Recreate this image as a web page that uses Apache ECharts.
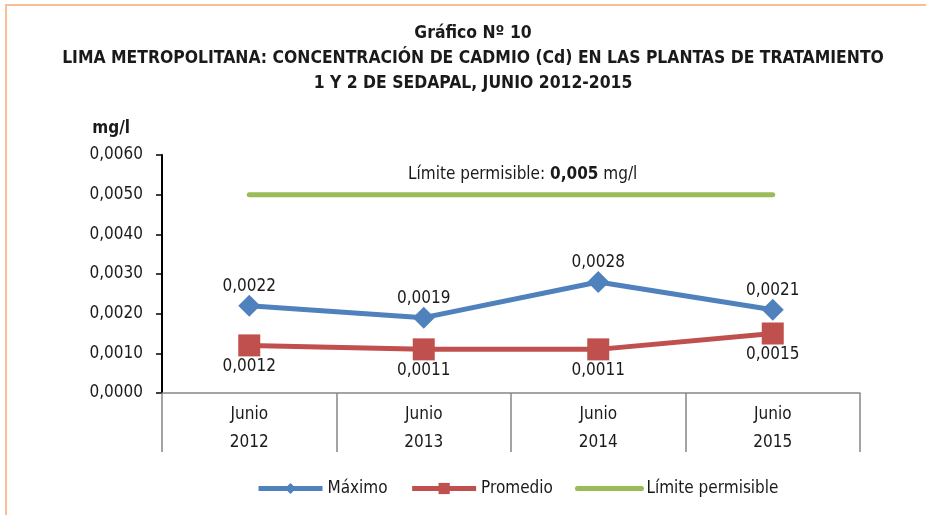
<!DOCTYPE html>
<html><head><meta charset="utf-8">
<script src="https://cdn.jsdelivr.net/npm/echarts@6/dist/echarts.min.js"></script>
<style>html,body{margin:0;padding:0;background:#fff}#c{width:926px;height:515px;position:relative}
#b{position:absolute;left:5px;top:4px;right:0;bottom:0;border-top:2px solid #f9be95;border-left:2px solid #f9be95;pointer-events:none}</style>
</head><body><div id="c"></div><div id="b"></div>
<script>
const categories = ['Junio\n2012', 'Junio\n2013', 'Junio\n2014', 'Junio\n2015'];
const maximo = [0.0022, 0.0019, 0.0028, 0.0021];
const promedio = [0.0012, 0.0011, 0.0011, 0.0015];
const limite = [0.005, 0.005, 0.005, 0.005];
const yTicks = [0, 0.001, 0.002, 0.003, 0.004, 0.005, 0.006];

const FONT = '"Liberation Sans Narrow","DejaVu Sans Condensed","Liberation Sans",sans-serif';
const fmt = v => v.toFixed(4).replace('.', ',');
const chart = echarts.init(document.getElementById('c'));
chart.setOption({
  animation: false,
  textStyle: { fontFamily: FONT, color: '#1a1a1a' },
  title: {
    text: 'Gráfico Nº 10\nLIMA METROPOLITANA: CONCENTRACIÓN DE CADMIO (Cd) EN LAS PLANTAS DE TRATAMIENTO\n1 Y 2 DE SEDAPAL, JUNIO 2012-2015',
    left: 468, top: 16, textAlign: 'center',
    textStyle: { fontFamily: FONT, fontSize: 17.4, fontWeight: 'bold', color: '#1a1a1a', lineHeight: 25 }
  },
  grid: { left: 162, right: 66, top: 155, bottom: 122 },
  legend: {
    left: 251, top: 475, itemWidth: 64, itemHeight: 14, itemGap: 22,
    textStyle: { fontFamily: FONT, fontSize: 17, color: '#1a1a1a', padding: [0, 0, 0, 0] },
    lineStyle: { width: 5 },
    data: [
      { name: 'Máximo' },
      { name: 'Promedio' },
      { name: 'Límite permisible', itemStyle: { opacity: 0 } }
    ]
  },
  xAxis: {
    type: 'category', data: categories, boundaryGap: true,
    axisLine: { lineStyle: { color: '#868686', width: 1.5 } },
    axisTick: { show: true, interval: 0, inside: false, length: 59, lineStyle: { color: '#868686', width: 1.5 } },
    axisLabel: { fontFamily: FONT, fontSize: 17, color: '#1a1a1a', lineHeight: 28, margin: 8 }
  },
  yAxis: {
    type: 'value', min: 0, max: 0.006, interval: 0.001,
    name: 'mg/l', nameLocation: 'end', nameGap: 18,
    nameTextStyle: { fontFamily: FONT, fontSize: 17, fontWeight: 'bold', color: '#1a1a1a', align: 'right', padding: [0, 32, 0, 0] },
    splitLine: { show: false },
    axisLine: { show: true, lineStyle: { color: '#000', width: 2 } },
    axisTick: { show: true, length: 6, lineStyle: { color: '#000', width: 1.5 } },
    axisLabel: { fontFamily: FONT, fontSize: 17, color: '#1a1a1a', margin: 19, formatter: v => yTicks.includes(+v.toFixed(4)) ? fmt(v) : '' }
  },
  series: [
    {
      name: 'Límite permisible', type: 'line', data: limite, symbol: 'none',
      lineStyle: { color: '#9bbb59', width: 5, cap: 'round' }, itemStyle: { color: '#9bbb59' }, z: 1
    },
    {
      name: 'Máximo', type: 'line', data: maximo, symbol: 'diamond', symbolSize: 22,
      lineStyle: { color: '#4f81bd', width: 5 }, itemStyle: { color: '#4f81bd' },
      label: { show: true, position: 'top', distance: 0, fontFamily: FONT, fontSize: 17, color: '#1a1a1a', formatter: p => fmt(p.value) }
    },
    {
      name: 'Promedio', type: 'line', data: promedio, symbol: 'rect', symbolSize: 22,
      lineStyle: { color: '#c0504d', width: 5 }, itemStyle: { color: '#c0504d' },
      label: { show: true, position: 'bottom', distance: 2, fontFamily: FONT, fontSize: 17, color: '#1a1a1a', formatter: p => fmt(p.value) }
    }
  ],
  graphic: [{
    type: 'text', left: 408, top: 166,
    style: {
      text: '{n|Límite permisible: }{b|0,005}{n| mg/l}',
      rich: {
        n: { fontFamily: FONT, fontSize: 17, fill: '#1a1a1a' },
        b: { fontFamily: FONT, fontSize: 17, fontWeight: 'bold', fill: '#1a1a1a' }
      }
    }
  }]
});
</script>
</body></html>
